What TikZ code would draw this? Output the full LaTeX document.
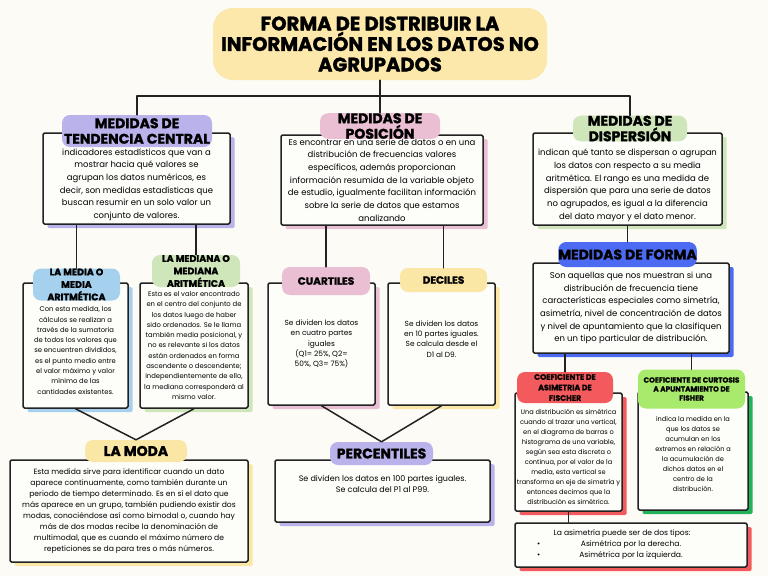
\documentclass[tikz,border=0pt]{standalone}
\usepackage{fontspec}
\setmainfont{Poppins}
\newfontfamily\headfont{Poppins}[BoldFeatures={FakeBold=1.5}]
\usetikzlibrary{calc}

\definecolor{ink}{HTML}{222222}
\definecolor{paper}{HTML}{FDFDF9}
\definecolor{bgcream}{HTML}{FCFBF6}
\definecolor{titleY}{HTML}{FBE8AA}
\definecolor{lilac}{HTML}{B9B2EB}
\definecolor{rose}{HTML}{EBBFD3}
\definecolor{sage}{HTML}{CEE6BA}
\definecolor{royal}{HTML}{4D6BF2}
\definecolor{sky}{HTML}{A5D0EE}
\definecolor{butter}{HTML}{FBE7A5}
\definecolor{coral}{HTML}{F25A5D}
\definecolor{lime}{HTML}{A8EA6B}
\definecolor{leaf}{HTML}{22B25A}

\newcommand\bodyL{\fontsize{8.5}{12.7}\selectfont}
\newcommand\bodyM{\fontsize{7.6}{11}\selectfont}
\newcommand\bodyS{\fontsize{6.8}{10.3}\selectfont}
\newcommand\bodyXS{\fontsize{6.6}{10}\selectfont}
\newcommand\headL{\headfont\bfseries\fontsize{14}{15.5}\selectfont}
\newcommand\headM{\headfont\bfseries\fontsize{9.5}{12.5}\selectfont}
\newcommand\headS{\headfont\bfseries\fontsize{7.8}{10.5}\selectfont}
% invisible struts that push a card's text down or up
\newcommand\dropby[1]{\rule{0pt}{#1}}
\newcommand\liftby[1]{\rule[-#1]{0pt}{#1}}

\begin{document}
\begin{tikzpicture}[x=1pt, y=-1pt, line cap=round, line join=round,
  card/.style={draw=ink, line width=1.5pt, fill=paper, rounded corners=1.5pt,
    inner sep=0pt, align=center,
    preaction={fill=#1, transform canvas={xshift=4.5pt, yshift=-4pt}}},
  tag/.style={fill=#1, rounded corners=8pt, inner sep=0pt, align=center},
  link/.style={draw=ink, line width=1.5pt}]
  % Cream sheet, sized as the page.
  \fill[bgcream] (0,0) rectangle (768,576);

  % Title blob.
  \node[tag=titleY, rounded corners=20pt, minimum width=334, minimum height=72,
    font=\headfont\bfseries\fontsize{19.5}{20.5}\selectfont] (title) at (380,44)
    {FORMA DE DISTRIBUIR LA\\INFORMACIÓN EN LOS DATOS NO\\AGRUPADOS};

  % The three measures, each a card with its name pinned over the top edge.
  \node[card=lilac, minimum width=187, minimum height=91, font=\bodyL] (tcbox) at (136.5,178.5)
    {\dropby{19pt}indicadores estadísticos que van a\\mostrar hacia qué valores se\\agrupan los datos numéricos, es\\decir, son medidas estadísticas que\\buscan resumir en un solo valor un\\conjunto de valores.};
  \node[card=rose, minimum width=202, minimum height=90, font=\bodyL] (posbox) at (382,180)
    {Es encontrar en una serie de datos o en una\\distribución de frecuencias valores\\específicos, además proporcionan\\información resumida de la variable objeto\\de estudio, igualmente facilitan información\\sobre la serie de datos que estamos\\analizando};
  \node[card=sage, minimum width=189, minimum height=92, font=\bodyL] (disbox) at (627.5,179)
    {\dropby{19pt}indican qué tanto se dispersan o agrupan\\los datos con respecto a su media\\aritmética. El rango es una medida de\\dispersión que para una serie de datos\\no agrupados, es igual a la diferencia\\del dato mayor y el dato menor.};
  \node[tag=lilac, minimum width=150, minimum height=32, font=\headL] (tc) at (137,131)
    {MEDIDAS DE\\TENDENCIA CENTRAL};
  \node[tag=rose, minimum width=120, minimum height=24, font=\headL] (pos) at (380,126)
    {MEDIDAS DE\\POSICIÓN};
  \node[tag=sage, minimum width=114, minimum height=22, font=\headL] (dis) at (630,128.5)
    {MEDIDAS DE\\DISPERSIÓN};

  % Central tendency: mean, median, mode.
  \node[card=sky, minimum width=105, minimum height=125, font=\bodyS] (mediabox) at (75.5,345.5)
    {\dropby{15pt}Con esta medida, los\\cálculos se realizan a\\través de la sumatoria\\de todos los valores que\\se encuentren divididos,\\es el punto medio entre\\el valor máximo y valor\\mínimo de las\\cantidades existentes.};
  \node[card=sage, minimum width=108, minimum height=125, font=\bodyS] (medianabox) at (194,345.5)
    {Esta es el valor encontrado\\en el centro del conjunto de\\los datos luego de haber\\sido ordenados. Se le llama\\también media posicional, y\\no es relevante si los datos\\están ordenados en forma\\ascendente o descendente;\\independientemente de ello,\\la mediana corresponderá al\\mismo valor.};
  \node[card=butter, minimum width=238, minimum height=102, font=\bodyM] (modabox) at (129,511)
    {Esta medida sirve para identificar cuando un dato\\aparece continuamente, como también durante un\\periodo de tiempo determinado. Es en sí el dato que\\más aparece en un grupo, también pudiendo existir dos\\modas, conociéndose así como bimodal o, cuando hay\\más de dos modas recibe la denominación de\\multimodal, que es cuando el máximo número de\\repeticiones se da para tres o más números.};
  \node[tag=sky, minimum width=87, minimum height=32, font=\headM] (media) at (76.5,284.5)
    {LA MEDIA O\\MEDIA\\ARITMÉTICA};
  \node[tag=sage, minimum width=88, minimum height=32, font=\headM] (mediana) at (196,271)
    {LA MEDIANA O\\MEDIANA\\ARITMÉTICA};
  \node[tag=butter, minimum width=102, minimum height=22, font=\headL] (moda) at (136,451)
    {LA MODA};

  % Position: quartiles, deciles, percentiles.
  \node[card=rose, minimum width=107, minimum height=122, font=\fontsize{7.4}{10.3}\selectfont] (cuartbox) at (321.5,344)
    {Se dividen los datos\\en cuatro partes\\iguales\\(Q1= 25\%, Q2=\\50\%, Q3= 75\%)};
  \node[card=butter, minimum width=107, minimum height=122, font=\fontsize{7.4}{10.3}\selectfont] (decbox) at (441.5,344)
    {Se dividen los datos\\en 10 partes iguales.\\Se calcula desde el\\D1 al D9.\liftby{10pt}};
  \node[card=lilac, minimum width=215, minimum height=62, font=\fontsize{8}{11.5}\selectfont] (percbox) at (382.5,491)
    {Se dividen los datos en 100 partes iguales.\\Se calcula del P1 al P99.\liftby{14pt}};
  \node[tag=rose, minimum width=88, minimum height=28, font=\headfont\bfseries\fontsize{10.5}{12}\selectfont] (cuart) at (326,281)
    {CUARTILES};
  \node[tag=butter, minimum width=87, minimum height=24, font=\headfont\bfseries\fontsize{10.5}{12}\selectfont] (dec) at (443.5,280)
    {DECILES};
  \node[tag=lilac, minimum width=103, minimum height=23, font=\headL] (perc) at (381.5,453.5)
    {PERCENTILES};

  % Shape measures.
  \node[card=royal, minimum width=196, minimum height=90, font=\bodyL] (formabox) at (631,308)
    {Son aquellas que nos muestran si una\\distribución de frecuencia tiene\\características especiales como simetría,\\asimetría, nivel de concentración de datos\\y nivel de apuntamiento que la clasifiquen\\en un tipo particular de distribución.};
  \node[card=coral, minimum width=107, minimum height=118, font=\bodyXS] (asimbox) at (568.5,452)
    {\dropby{15pt}Una distribución es simétrica\\cuando al trazar una vertical,\\en el diagrama de barras o\\histograma de una variable,\\según sea esta discreta o\\continua, por el valor de la\\media, esta vertical se\\transforma en eje de simetría y\\entonces decimos que la\\distribución es simétrica.};
  \node[card=leaf, minimum width=110, minimum height=118, font=\bodyXS] (curtbox) at (693,451)
    {\dropby{11pt}indica la medida en la\\que los datos se\\acumulan en los\\extremos en relación a\\la acumulación de\\dichos datos en el\\centro de la\\distribución.};
  \node[card=coral, minimum width=232, minimum height=44, font=\bodyM] (tiposbox) at (631,545)
    {La asimetría puede ser de dos tipos:\hspace*{18pt}\\
     \makebox[220pt]{\rlap{\hspace{16pt}•}\hfill Asimétrica por la derecha.\hfill}\\
     \makebox[220pt]{\rlap{\hspace{16pt}•}\hfill Asimétrica por la izquierda.\hfill}};
  \node[tag=royal, minimum width=137, minimum height=25, font=\headL] (forma) at (627.5,254.5)
    {MEDIDAS DE FORMA};
  \node[tag=coral, minimum width=96, minimum height=31, font=\headS] (asim) at (565,387.5)
    {COEFICIENTE DE\\ASIMETRIA DE\\FISCHER};
  \node[tag=lime, minimum width=107, minimum height=39, font=\headfont\bfseries\fontsize{7.3}{9}\selectfont] (curt) at (691.5,389)
    {COEFICIENTE DE CURTOSIS\\A APUNTAMIENTO DE\\FISHER};

  % Connectors.
  \coordinate (bar) at (0,96);
  \draw[link] (title.south) -- (pos.north);
  \draw[link] (tc.north) -- (tc.north |- bar) -- (dis.north |- bar) -- (dis.north);
  \draw[link] (tcbox.south -| media.north) -- (media.north);
  \draw[link] (tcbox.south -| mediana.north) -- (mediana.north);
  \draw[link] (posbox.south -| cuart.north) -- (cuart.north);
  \draw[link] (posbox.south -| dec.north) -- (dec.north);
  \draw[link] (disbox.south -| forma.north) -- (forma.north);
  \draw[link] (formabox.south -| asim.north) -- (asim.north);
  \draw[link] (formabox.south -| curt.north) -- (curt.north);
  \draw[link] (asimbox.south) -- (tiposbox.north -| asimbox.south);
  \draw[link] (mediabox.south) -- (moda.north) -- (medianabox.south);
  \draw[link] (cuartbox.south) -- (perc.north) -- (decbox.south);
\end{tikzpicture}
\end{document}
